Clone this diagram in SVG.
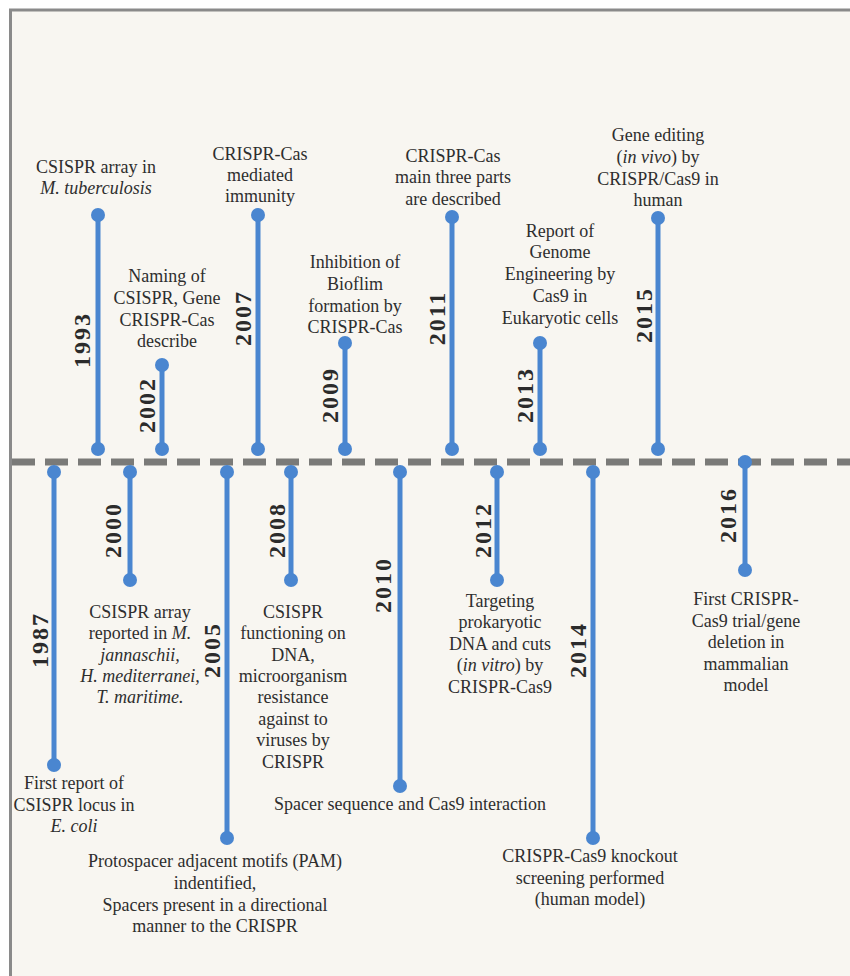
<svg xmlns="http://www.w3.org/2000/svg" width="850" height="976" viewBox="0 0 850 976">
<style>
.pin{stroke:#4a86d0;stroke-width:5;fill:none}
.dot{fill:#4a86d0}
.yr{font-family:"Liberation Serif","DejaVu Serif",serif;font-weight:bold;font-size:24px;fill:#2b2b2b;letter-spacing:2px;text-anchor:middle}
.ev{font-family:"Liberation Serif","DejaVu Serif",serif;font-size:18px;fill:#2e2e2e;text-anchor:middle}
.it{font-style:italic}
</style>
<rect x="0" y="0" width="850" height="976" fill="#ffffff"/>
<rect x="10" y="9" width="840" height="967" fill="#f8f6f1"/>
<line x1="10.5" y1="9" x2="10.5" y2="976" stroke="#8a8a8a" stroke-width="3"/>
<line x1="9" y1="10" x2="850" y2="10" stroke="#8a8a8a" stroke-width="3"/>
<g id="connectors">
<line x1="12" y1="462" x2="850" y2="462" stroke="#7a7a78" stroke-width="7" stroke-dasharray="23,10"/>
</g>
<g id="e1993"><line class="pin" x1="98" y1="215" x2="98" y2="449"/><circle class="dot" cx="98" cy="215" r="7"/><circle class="dot" cx="98" cy="449" r="7"/>
<text class="yr" transform="translate(90,340) rotate(-90)">1993</text>
<text class="ev" x="96" y="173">CSISPR array in</text><text class="ev it" x="96" y="194">M. tuberculosis</text></g>
<g id="e2002"><line class="pin" x1="162" y1="365" x2="162" y2="449"/><circle class="dot" cx="162" cy="365" r="7"/><circle class="dot" cx="162" cy="449" r="7"/>
<text class="yr" transform="translate(155,405) rotate(-90)">2002</text>
<text class="ev" x="167" y="282">Naming of</text><text class="ev" x="167" y="304">CSISPR, Gene</text><text class="ev" x="167" y="326">CRISPR-Cas</text><text class="ev" x="167" y="347">describe</text></g>
<g id="e2007"><line class="pin" x1="258" y1="215" x2="258" y2="449"/><circle class="dot" cx="258" cy="215" r="7"/><circle class="dot" cx="258" cy="449" r="7"/>
<text class="yr" transform="translate(251,318) rotate(-90)">2007</text>
<text class="ev" x="260" y="160">CRISPR-Cas</text><text class="ev" x="260" y="181">mediated</text><text class="ev" x="260" y="202">immunity</text></g>
<g id="e2009"><line class="pin" x1="345" y1="343" x2="345" y2="449"/><circle class="dot" cx="345" cy="343" r="7"/><circle class="dot" cx="345" cy="449" r="7"/>
<text class="yr" transform="translate(338,395) rotate(-90)">2009</text>
<text class="ev" x="355" y="268">Inhibition of</text><text class="ev" x="355" y="290">Bioflim</text><text class="ev" x="355" y="312">formation by</text><text class="ev" x="355" y="333">CRISPR-Cas</text></g>
<g id="e2011"><line class="pin" x1="452" y1="217" x2="452" y2="449"/><circle class="dot" cx="452" cy="217" r="7"/><circle class="dot" cx="452" cy="449" r="7"/>
<text class="yr" transform="translate(445,318) rotate(-90)">2011</text>
<text class="ev" x="453" y="162">CRISPR-Cas</text><text class="ev" x="453" y="183">main three parts</text><text class="ev" x="453" y="205">are described</text></g>
<g id="e2013"><line class="pin" x1="540" y1="343" x2="540" y2="449"/><circle class="dot" cx="540" cy="343" r="7"/><circle class="dot" cx="540" cy="449" r="7"/>
<text class="yr" transform="translate(533,395) rotate(-90)">2013</text>
<text class="ev" x="560" y="237">Report of</text><text class="ev" x="560" y="258">Genome</text><text class="ev" x="560" y="280">Engineering  by</text><text class="ev" x="560" y="302">Cas9 in</text><text class="ev" x="560" y="324">Eukaryotic cells</text></g>
<g id="e2015"><line class="pin" x1="658" y1="218" x2="658" y2="449"/><circle class="dot" cx="658" cy="218" r="7"/><circle class="dot" cx="658" cy="449" r="7"/>
<text class="yr" transform="translate(652,315) rotate(-90)">2015</text>
<text class="ev" x="658" y="141">Gene editing</text><text class="ev" x="658" y="163">(<tspan class="it">in vivo</tspan>) by</text><text class="ev" x="658" y="185">CRISPR/Cas9 in</text><text class="ev" x="658" y="206">human</text></g>
<g id="e1987"><line class="pin" x1="54" y1="472" x2="54" y2="765"/><circle class="dot" cx="54" cy="472" r="7"/><circle class="dot" cx="54" cy="765" r="7"/>
<text class="yr" transform="translate(48,640) rotate(-90)">1987</text>
<text class="ev" x="74" y="789">First report of</text><text class="ev" x="74" y="811">CSISPR locus in</text><text class="ev it" x="74" y="832">E. coli</text></g>
<g id="e2000"><line class="pin" x1="130" y1="472" x2="130" y2="580"/><circle class="dot" cx="130" cy="472" r="7"/><circle class="dot" cx="130" cy="580" r="7"/>
<text class="yr" transform="translate(121,530) rotate(-90)">2000</text>
<text class="ev" x="140" y="618">CSISPR array</text><text class="ev" x="140" y="639">reported in <tspan class="it">M.</tspan></text><text class="ev it" x="140" y="661">jannaschii,</text><text class="ev it" x="140" y="682">H. mediterranei,</text><text class="ev it" x="140" y="703">T. maritime.</text></g>
<g id="e2005"><line class="pin" x1="227" y1="472" x2="227" y2="838"/><circle class="dot" cx="227" cy="472" r="7"/><circle class="dot" cx="227" cy="838" r="7"/>
<text class="yr" transform="translate(220,650) rotate(-90)">2005</text>
<text class="ev" x="215" y="867">Protospacer adjacent motifs (PAM)</text><text class="ev" x="215" y="889">indentified,</text><text class="ev" x="215" y="911">Spacers present in a directional</text><text class="ev" x="215" y="932">manner to the CRISPR</text></g>
<g id="e2008"><line class="pin" x1="291" y1="472" x2="291" y2="580"/><circle class="dot" cx="291" cy="472" r="7"/><circle class="dot" cx="291" cy="580" r="7"/>
<text class="yr" transform="translate(285,530) rotate(-90)">2008</text>
<text class="ev" x="293" y="618">CSISPR</text><text class="ev" x="293" y="639">functioning on</text><text class="ev" x="293" y="661">DNA,</text><text class="ev" x="293" y="682">microorganism</text><text class="ev" x="293" y="703">resistance</text><text class="ev" x="293" y="725">against  to</text><text class="ev" x="293" y="746">viruses  by</text><text class="ev" x="293" y="768">CRISPR</text></g>
<g id="e2010"><line class="pin" x1="400" y1="472" x2="400" y2="786"/><circle class="dot" cx="400" cy="472" r="7"/><circle class="dot" cx="400" cy="786" r="7"/>
<text class="yr" transform="translate(391,585) rotate(-90)">2010</text>
<text class="ev" x="410" y="810">Spacer sequence and Cas9 interaction</text></g>
<g id="e2012"><line class="pin" x1="497" y1="472" x2="497" y2="580"/><circle class="dot" cx="497" cy="472" r="7"/><circle class="dot" cx="497" cy="580" r="7"/>
<text class="yr" transform="translate(491,530) rotate(-90)">2012</text>
<text class="ev" x="500" y="607">Targeting</text><text class="ev" x="500" y="628">prokaryotic</text><text class="ev" x="500" y="650">DNA and cuts</text><text class="ev" x="500" y="671">(<tspan class="it">in vitro</tspan>) by</text><text class="ev" x="500" y="693">CRISPR-Cas9</text></g>
<g id="e2014"><line class="pin" x1="593" y1="472" x2="593" y2="838"/><circle class="dot" cx="593" cy="472" r="7"/><circle class="dot" cx="593" cy="838" r="7"/>
<text class="yr" transform="translate(586,650) rotate(-90)">2014</text>
<text class="ev" x="590" y="862">CRISPR-Cas9 knockout</text><text class="ev" x="590" y="884">screening performed</text><text class="ev" x="590" y="905">(human model)</text></g>
<g id="e2016"><line class="pin" x1="745" y1="462" x2="745" y2="570"/><circle class="dot" cx="745" cy="462" r="7"/><circle class="dot" cx="745" cy="570" r="7"/>
<text class="yr" transform="translate(736,515) rotate(-90)">2016</text>
<text class="ev" x="746" y="605">First CRISPR-</text><text class="ev" x="746" y="627">Cas9 trial/gene</text><text class="ev" x="746" y="648">deletion in</text><text class="ev" x="746" y="670">mammalian</text><text class="ev" x="746" y="691">model</text></g>
</svg>
